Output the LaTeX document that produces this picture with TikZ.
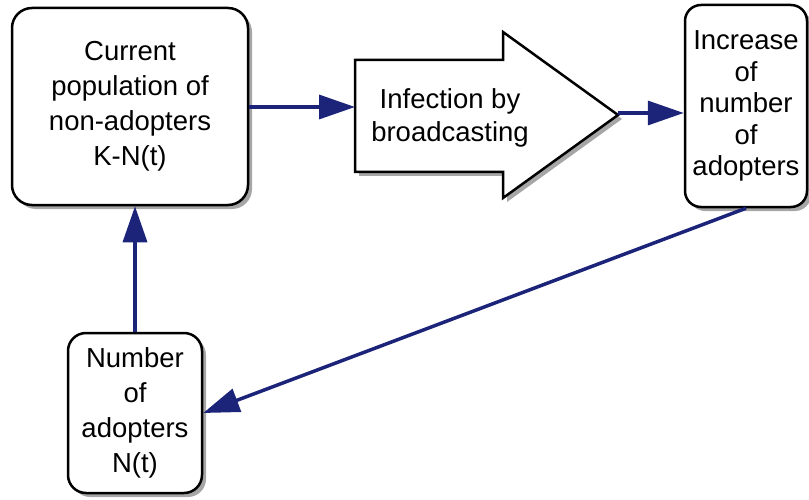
\documentclass[tikz,border=0pt]{standalone}
\usepackage{fontspec}
\setmainfont{Liberation Sans}
\usetikzlibrary{arrows.meta,shadows}
\definecolor{navy}{RGB}{28,36,122}

\begin{document}
\begin{tikzpicture}[x=1pt,y=-1pt,font=\fontsize{27.5}{35}\selectfont,
  box/.style={draw,line width=2.5pt,fill=white,rounded corners=20pt,align=center,inner sep=0pt,
    drop shadow={shadow xshift=4pt,shadow yshift=-4pt,fill=black,opacity=0.35}},
  bigarrow/.style={draw,line width=2.5pt,fill=white,
    drop shadow={shadow xshift=4pt,shadow yshift=-4pt,fill=black,opacity=0.35}},
  flow/.style={draw=navy,line width=3.5pt,-{Triangle[length=36pt,width=24pt]}}]
\useasboundingbox (0,0) rectangle (809,500);
\node[box,minimum width=236pt,minimum height=197pt] (cur) at (130,106.5) {Current\\population of\\non-adopters\\K-N(t)};
\node[box,minimum width=122pt,minimum height=202pt,rounded corners=16pt,font=\fontsize{27.5}{31.5}\selectfont] (incr) at (746,106) {Increase\\of\\number\\of\\adopters};
\node[box,minimum width=134pt,minimum height=160pt,rounded corners=18pt] (num) at (135,413) {Number\\of\\adopters\\N(t)};
\draw[bigarrow] (355,60) -- (503,60) -- (503,32) -- (618,115) -- (503,198) -- (503,172) -- (355,172) -- cycle;
\coordinate (infback) at (355,107);
\coordinate (inftip) at (618,113);
\node[align=center,font=\fontsize{27.5}{33}\selectfont] (inf) at (450,118) {Infection by\\broadcasting};
\draw[flow] (cur.east |- infback) -- (infback);
\draw[flow] (inftip) -- (inftip -| incr.west);
\draw[flow] (incr.south) -- (num.east);
\draw[flow] (num.north) -- (num.north |- cur.south);
\end{tikzpicture}
\end{document}
